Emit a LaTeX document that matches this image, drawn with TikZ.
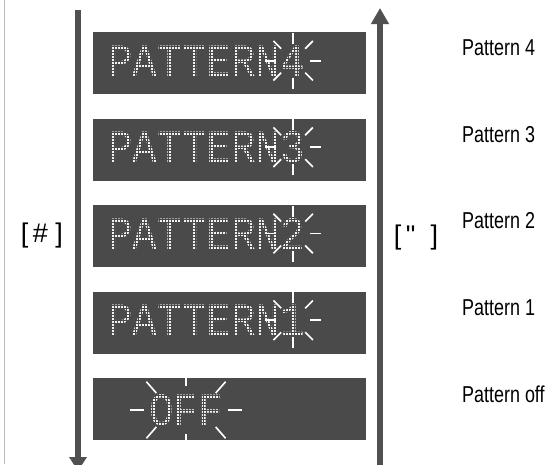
\documentclass[tikz,border=0pt]{standalone}
\usepackage{fontspec}
\setmainfont{Liberation Sans}
\newfontfamily\lcdfont{Liberation Mono}
\newfontfamily\keyfont{Liberation Sans}
\usepackage{xcolor}
\usetikzlibrary{positioning, calc, arrows.meta}
\definecolor{lcdgray}{HTML}{4A4A4A}
\definecolor{arrowgray}{HTML}{505050}
\definecolor{lcdwhite}{HTML}{F2F2F2}

\begin{document}
\begin{tikzpicture}[x=1pt, y=-1pt,
    lcdbox/.style={fill=lcdgray, draw=none},
    lcdtext/.style={text=lcdwhite, font=\lcdfont\fontsize{41}{41}\selectfont, inner sep=0pt},
    ray/.style={draw=white, line width=1.6pt},
    dotgrid/.style={draw=lcdgray, line width=0.9pt},
    arrowline/.style={draw=arrowgray, line width=5.5pt},
    side/.style={font=\fontsize{23}{23}\selectfont, inner sep=0pt, anchor=west},
    key/.style={font=\keyfont\fontsize{27}{27}\selectfont, inner sep=0pt}]
    \useasboundingbox (0,0) rectangle (551,464);

    % Frame edge
    \draw[gray!55, line width=0.7pt] (4,0) -- (4,464);

    % Arrows
    \coordinate (downtop) at (78,10);
    \coordinate (downend) at (78,471);
    \coordinate (upstart) at (380,470);
    \coordinate (uptop) at (380,8);
    \draw[arrowline, -{Triangle[width=17pt,length=14pt]}] (downtop) -- (downend);
    \draw[arrowline, -{Triangle[width=17pt,length=16pt]}] (upstart) -- (uptop);

    % Keys
    \node[key] (keydown) at (42,236) {[\,\#\ ]};
    \node[key] (keyup) at (416,238) {[\,\symbol{34}\ \ ]};

    % Pattern displays
    \foreach \i/\d in {0/4,1/3,2/2,3/1} {
        \pgfmathsetmacro{\top}{32+\i*86.5}
        \fill[lcdbox] (93,\top) rectangle (366,\top+62);
        \node[lcdtext, anchor=base west] (pat\d) at (108,\top+44) {\scalebox{1}[1.13]{PATTERN}};
        \node[lcdtext, right=0pt of pat\d.base east, anchor=base west] (num\d) {\scalebox{1}[1.13]{\d}};
        % dot matrix look
        \foreach \gx in {105,108,...,302} {
            \draw[dotgrid] (\gx,\top+8) -- (\gx,\top+52);
        }
        \foreach \gy in {8,11,...,52} {
            \draw[dotgrid] (105,\top+\gy) -- (302,\top+\gy);
        }
        % blinking digit
        \foreach \a in {0,45,...,315} {
            \draw[ray] ($(num\d.center)+(\a:17)$) -- ($(num\d.center)+(\a:28)$);
        }
        \node[side] (lab\d) at (462,\top+16) {\scalebox{0.78}[1]{Pattern \d}};
    }

    % Off display
    \fill[lcdbox] (93,378) rectangle (366,440);
    \node[lcdtext] (off) at (186,410) {\scalebox{1}[1.13]{OFF}};
    \foreach \gx in {140,143,...,233} {
        \draw[dotgrid] (\gx,386) -- (\gx,434);
    }
    \foreach \gy in {386,389,...,434} {
        \draw[dotgrid] (140,\gy) -- (233,\gy);
    }
    \foreach \a in {0,45,...,315} {
        \draw[ray] ($(off.center)+(\a:42pt and 24pt)$) -- ($(off.center)+(\a:56pt and 40pt)$);
    }
    \node[side] (laboff) at (462,394) {\scalebox{0.78}[1]{Pattern off}};
\end{tikzpicture}
\end{document}
